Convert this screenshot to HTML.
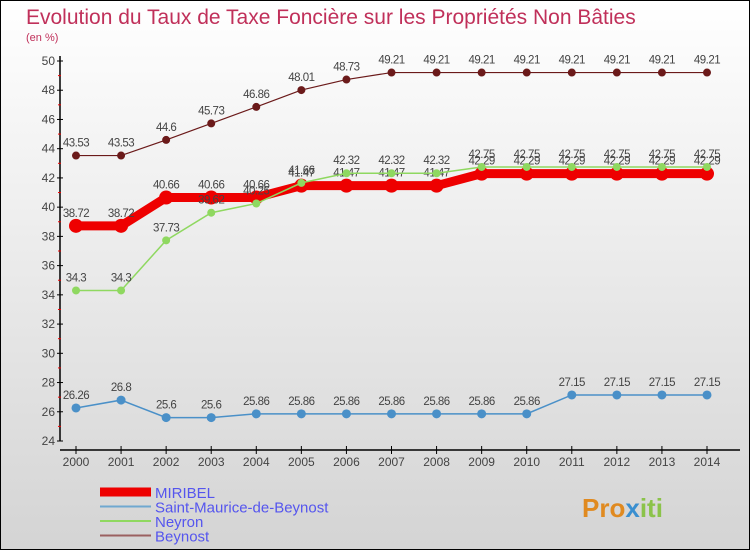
<!DOCTYPE html>
<html><head><meta charset="utf-8"><style>
body{margin:0}
#c{width:750px;height:550px;position:relative;overflow:hidden;font-family:"Liberation Sans",sans-serif}
</style></head><body>
<div id="c">
<svg id="s" width="750" height="550" xmlns="http://www.w3.org/2000/svg">
<defs><linearGradient id="bg" x1="0" y1="0" x2="0" y2="1"><stop offset="0" stop-color="#ffffff"/><stop offset="1" stop-color="#d4d4d4"/></linearGradient></defs>
<rect x="0.5" y="0.5" width="749" height="549" fill="url(#bg)" stroke="#000"/>
<text x="26" y="24" font-size="21" fill="#c0305a">Evolution du Taux de Taxe Foncière sur les Propriétés Non Bâties</text>
<text x="26" y="41" font-size="11" fill="#c0305a">(en %)</text>
<g id="axes"></g><g id="series"></g><g id="legend"></g>
<text x="582" y="517" font-size="26" font-weight="bold" fill="#e08a20">Pro<tspan fill="#3a8fd0">x</tspan><tspan fill="#8bc34a">iti</tspan></text>
</svg>
</div>
<script>
const years=[2000,2001,2002,2003,2004,2005,2006,2007,2008,2009,2010,2011,2012,2013,2014];
const yTicks=[24,26,28,30,32,34,36,38,40,42,44,46,48,50];
const miribel=[38.72,38.72,40.66,40.66,40.66,41.47,41.47,41.47,41.47,42.29,42.29,42.29,42.29,42.29,42.29];
const stMaurice=[26.26,26.8,25.6,25.6,25.86,25.86,25.86,25.86,25.86,25.86,25.86,27.15,27.15,27.15,27.15];
const neyron=[34.3,34.3,37.73,39.62,40.25,41.66,42.32,42.32,42.32,42.75,42.75,42.75,42.75,42.75,42.75];
const beynost=[43.53,43.53,44.6,45.73,46.86,48.01,48.73,49.21,49.21,49.21,49.21,49.21,49.21,49.21,49.21];
const NS="http://www.w3.org/2000/svg";
function X(i){return 76+i*(707-76)/(years.length-1);}
function Y(v){return 441-(v-24)*(441-61)/26;}
function mk(t,a,p){const e=document.createElementNS(NS,t);for(const k in a)e.setAttribute(k,a[k]);if(p)p.appendChild(e);return e;}
const ax=document.getElementById('axes');
const yl=mk('line',{x1:60,y1:56,x2:60,y2:441,stroke:'#000','stroke-width':1.5},ax);


yTicks.forEach(v=>{
 mk('line',{x1:57,y1:Y(v),x2:63,y2:Y(v),stroke:'#000'},ax);
 if(v<50)mk('line',{x1:58,y1:Y(v+1),x2:61,y2:Y(v+1),stroke:'#e00'},ax);
 const t=mk('text',{x:55,y:Y(v)+4,'text-anchor':'end','font-size':12,fill:'#444'},ax);
 t.textContent=v;
 
 
});
const xl=mk('line',{x1:60,y1:450,x2:740,y2:450,stroke:'#000','stroke-width':1.5},ax);


years.forEach((y,i)=>{
 mk('line',{x1:X(i),y1:446,x2:X(i),y2:454,stroke:'#000'},ax);
 const t=mk('text',{x:X(i),y:466,'text-anchor':'middle','font-size':12,fill:'#444'},ax);
 t.textContent=y;
 
 
});
const sg=document.getElementById('series');
function draw(vals,color,w,r,name){
 const g=mk('g',{},sg);
 
 
 mk('polyline',{points:vals.map((v,i)=>X(i)+','+Y(v)).join(' '),fill:'none',stroke:color,'stroke-width':w},g);
 vals.forEach((v,i)=>{
  const c=mk('circle',{cx:X(i),cy:Y(v),r:r,fill:color},g);
  
  
  const t=mk('text',{x:X(i),y:Y(v)-9,'text-anchor':'middle','font-size':11.5,fill:'#444','letter-spacing':'-0.5'},g);
  t.textContent=v;
  
  
 });
}
draw(beynost,'#6b1a1a',1.2,4,'beynost');
draw(stMaurice,'#4a90c8',1.5,4.5,'saint-maurice');
draw(miribel,'#ee0000',9,7,'miribel');
draw(neyron,'#8fd860',1.5,4,'neyron');
const lg=document.getElementById('legend');
[['MIRIBEL','#ee0000',9],['Saint-Maurice-de-Beynost','#6fa8d0',2],['Neyron','#8fd860',2],['Beynost','#9a6060',2]].forEach((d,i)=>{
 const y=492+i*14.5;
 const l=mk('line',{x1:100,y1:y,x2:151,y2:y,stroke:d[1],'stroke-width':d[2]},lg);
 
 
 const t=mk('text',{x:155,y:y+6,'font-size':15,fill:'#5555ee'},lg);
 t.textContent=d[0];
 
 
});
</script>
</body></html>
